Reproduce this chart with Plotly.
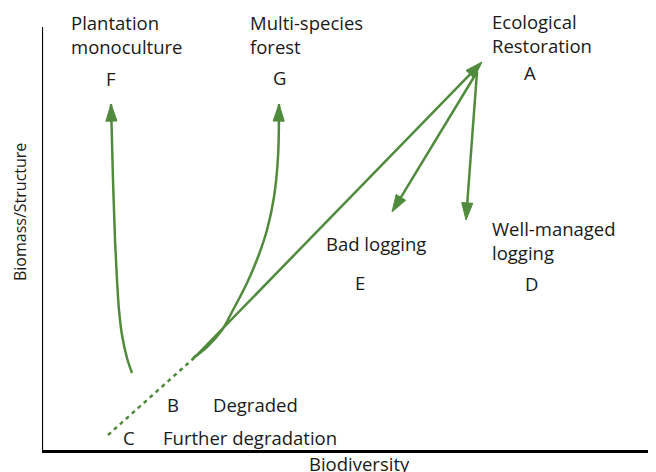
import plotly.graph_objects as go

# Coordinate system: Biodiversity (x) and Biomass/Structure (y), arbitrary units
X_MAX = 614
Y_MAX = 442
Y_AXIS_TOP = 423

GREEN = "rgb(80,138,60)"
TEXT = "#1a1a1a"
FONT = "Open Sans"
FS = 18.5

# Degradation path (dotted): C -> B
degr_x = [66, 152]
degr_y = [15, 92]

# Restoration path B -> A (straight)
restore_x = [152, 440]
restore_y = [92, 388]

# Bad logging A -> E direction
bad_x = [435, 350]
bad_y = [378, 238]

# Well-managed logging A -> D direction
well_x = [435, 424]
well_y = [378, 230]

# Plantation monoculture curve -> F
plant_x = [90, 85, 80, 77, 75, 73, 71, 69]
plant_y = [77, 92, 115, 140, 170, 210, 270, 346]

# Multi-species forest curve -> G
multi_x = [151, 165, 180, 191, 205, 216, 225, 232, 236, 237]
multi_y = [92, 103, 120, 140, 167, 193, 220, 253, 293, 346]

# Labels
label_text = ["Plantation<br>monoculture", "Multi-species<br>forest",
              "Ecological<br>Restoration", "Bad logging",
              "Well-managed<br>logging", "Degraded", "Further degradation"]
label_x = [27, 206, 448, 282, 448, 169, 119]
label_y = [416, 416, 416.5, 207, 209.5, 46, 13]

letter_text = ["F", "G", "A", "E", "D", "B", "C"]
letter_x = [69, 237, 488, 318, 489, 131, 87]
letter_y = [372, 373, 378, 168, 167, 46, 13]

fig = go.Figure()

def arrow_trace(xs, ys, shape="linear", dash="solid", head=True):
    sizes = [0] * (len(xs) - 1) + [18 if head else 0]
    fig.add_trace(go.Scatter(
        x=xs, y=ys,
        mode="lines+markers" if head else "lines",
        line=dict(color=GREEN, width=2.5, shape=shape, dash=dash,
                  smoothing=1.0 if shape == "spline" else None),
        marker=dict(symbol="arrow", size=sizes, color=GREEN, opacity=1,
                    angleref="previous", line=dict(width=1, color=GREEN)) if head else None,
        hoverinfo="skip", showlegend=False,
    ))

arrow_trace(degr_x, degr_y, dash="4px,4px", head=False)
arrow_trace(restore_x, restore_y)
arrow_trace(bad_x, bad_y)
arrow_trace(well_x, well_y)
arrow_trace(plant_x, plant_y, shape="spline")
arrow_trace(multi_x, multi_y, shape="spline")

annotations = []
for t, x, y in zip(label_text, label_x, label_y):
    annotations.append(dict(x=x, y=y, xref="x", yref="y", text=t,
                            showarrow=False, xanchor="left", yanchor="middle",
                            align="left", font=dict(family=FONT, size=FS, color=TEXT)))
for t, x, y in zip(letter_text, letter_x, letter_y):
    annotations.append(dict(x=x, y=y, xref="x", yref="y", text=t,
                            showarrow=False, xanchor="center", yanchor="middle",
                            font=dict(family=FONT, size=FS, color=TEXT)))

# Axis titles
annotations.append(dict(x=317 / X_MAX, y=-14 / Y_MAX, xref="paper", yref="paper",
                        text="Biodiversity", showarrow=False, xanchor="center",
                        yanchor="middle", font=dict(family=FONT, size=FS, color=TEXT)))
annotations.append(dict(x=-22 / X_MAX, y=238 / Y_MAX, xref="paper", yref="paper",
                        text="Biomass/Structure", showarrow=False, textangle=-90,
                        xanchor="center", yanchor="middle",
                        font=dict(family=FONT, size=16, color=TEXT)))

fig.update_layout(
    width=648, height=464,
    margin=dict(l=34, r=0, t=0, b=22),
    paper_bgcolor="white", plot_bgcolor="white",
    annotations=annotations,
    shapes=[dict(type="line", xref="x", yref="y", x0=0, x1=0, y0=0, y1=Y_AXIS_TOP,
                 line=dict(color="black", width=2.2), layer="above")],
    xaxis=dict(range=[0, X_MAX], showgrid=False, zeroline=False, showticklabels=False,
               ticks="", showline=True, linecolor="black", linewidth=3, fixedrange=True),
    yaxis=dict(range=[0, Y_MAX], showgrid=False, zeroline=False, showticklabels=False,
               ticks="", showline=False, fixedrange=True),
)

fig.write_html("out.html", config={"displayModeBar": False})
